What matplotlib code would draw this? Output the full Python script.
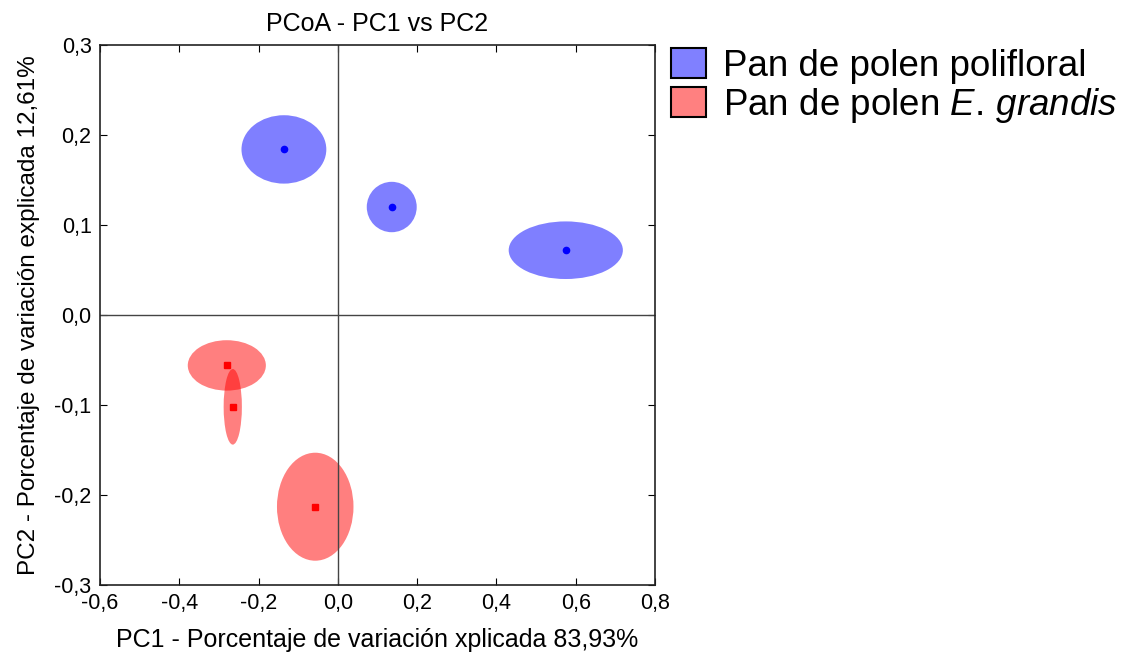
import matplotlib.pyplot as plt
from matplotlib.patches import Ellipse, Patch
from matplotlib.ticker import FuncFormatter

plt.rcParams['font.family'] = ['Liberation Sans', 'DejaVu Sans']
plt.rcParams['mathtext.fontset'] = 'custom'
plt.rcParams['mathtext.it'] = 'Liberation Sans:italic'
plt.rcParams['mathtext.rm'] = 'Liberation Sans'

# group centroids (PC1, PC2) and ellipse widths/heights in axis units
poli_x = [-0.136, 0.136, 0.575]
poli_y = [0.184, 0.120, 0.072]
poli_w = [0.214, 0.126, 0.288]
poli_h = [0.076, 0.056, 0.064]

grandis_x = [-0.280, -0.265, -0.057]
grandis_y = [-0.056, -0.102, -0.213]
grandis_w = [0.197, 0.046, 0.193]
grandis_h = [0.056, 0.084, 0.120]

labels = ['Pan de polen polifloral', 'Pan de polen $\\it{E.\\,grandis}$']
blue = '#0000ff'
red = '#ff0000'

fig = plt.figure(figsize=(11.32, 6.62), dpi=100)
ax = fig.add_axes([0.0883, 0.1163, 0.4903, 0.8157])

for x, y, w, h in zip(poli_x, poli_y, poli_w, poli_h):
    ax.add_patch(Ellipse((x, y), w, h, facecolor=blue, alpha=0.5, lw=0))
for x, y, w, h in zip(grandis_x, grandis_y, grandis_w, grandis_h):
    ax.add_patch(Ellipse((x, y), w, h, facecolor=red, alpha=0.5, lw=0))

ax.plot(poli_x, poli_y, 'o', color=blue, ms=4.5, ls='none')
ax.plot(grandis_x, grandis_y, 's', color=red, ms=4.5, ls='none')

ax.axhline(0, color='#444444', lw=1)
ax.axvline(0, color='#444444', lw=1)

ax.set_xlim(-0.6, 0.8)
ax.set_ylim(-0.3, 0.3)
ax.set_xticks([-0.6, -0.4, -0.2, 0.0, 0.2, 0.4, 0.6, 0.8])
ax.set_yticks([-0.3, -0.2, -0.1, 0.0, 0.1, 0.2, 0.3])
comma = FuncFormatter(lambda v, _: f'{v:.1f}'.replace('.', ','))
ax.xaxis.set_major_formatter(comma)
ax.yaxis.set_major_formatter(comma)
ax.tick_params(direction='in', top=True, right=True, length=5, labelsize=15.5, pad=6)

for s in ax.spines.values():
    s.set_color('#222222')
    s.set_linewidth(1.2)

ax.set_title('PCoA - PC1 vs PC2', fontsize=18, pad=10)
ax.set_xlabel('PC1 - Porcentaje de variación xplicada 83,93%', fontsize=18, labelpad=10)
ax.set_ylabel('PC2 - Porcentaje de variación explicada 12,61%', fontsize=17.5, labelpad=10)

handles = [Patch(facecolor='#8080ff', edgecolor='black', lw=1.5),
           Patch(facecolor='#ff8080', edgecolor='black', lw=1.5)]
fig.legend(handles, labels, loc='upper left', bbox_to_anchor=(0.580, 0.950),
           frameon=False, fontsize=26.5, handlelength=0.95, handleheight=0.9,
           handletextpad=0.45, labelspacing=0.05, borderaxespad=0)

fig.savefig('out.png', dpi=100)
